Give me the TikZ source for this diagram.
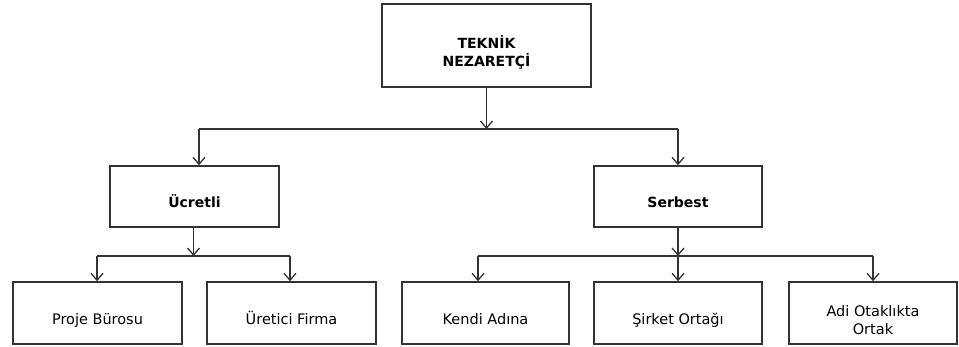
\documentclass[tikz,border=0pt]{standalone}
\usepackage{fontspec}
\setmainfont{DejaVu Sans}
\usetikzlibrary{arrows.meta}
\newcommand{\twoline}[2]{\begin{tabular}[b]{@{}c@{}}#1\\#2\end{tabular}}
\begin{document}
\begin{tikzpicture}[x=1pt,y=-1pt,
  box/.style={draw=black!80,line width=1.5pt,fill=white,minimum height=62pt,inner sep=0pt,text height=22pt,text depth=0pt,font=\fontsize{14.5}{18}\selectfont},
  bbox/.style={box,font=\fontsize{14}{18}\selectfont\bfseries},
  tall/.style={text height=42pt},
  arr/.style={draw=black!80,line width=1.5pt,-{Straight Barb[length=7pt,width=12pt,line width=1.3pt]}},
  ln/.style={draw=black!80,line width=1.5pt}]
\useasboundingbox (0,0) rectangle (959,346);
\node[bbox,tall,minimum width=209pt,minimum height=83pt] (top) at (486.5,45.5) {\twoline{TEKNİK}{NEZARETÇİ}};
\node[bbox,minimum width=169pt,minimum height=61pt] (ucr) at (194.5,196.5) {Ücretli};
\node[bbox,minimum width=168pt,minimum height=61pt] (ser) at (678,196.5) {Serbest};
\node[box,minimum width=169pt] (proje) at (97.5,313) {Proje Bürosu};
\node[box,minimum width=169pt] (uret) at (291.5,313) {Üretici Firma};
\node[box,minimum width=167pt] (kendi) at (485.5,313) {Kendi Adına};
\node[box,minimum width=168pt] (sirket) at (678,313) {Şirket Ortağı};
\node[box,tall,minimum width=168pt] (adi) at (873,313) {\twoline{Adi Otaklıkta}{Ortak}};
% level 1
\coordinate (h1) at (486.5,129);
\coordinate (h1L) at (199,129);
\coordinate (h1R) at (678,129);
\draw[arr] (top.south) -- (h1);
\draw[ln] (h1L) -- (h1R);
\draw[arr] (h1L) -- (h1L |- ucr.north);
\draw[arr] (h1R) -- (ser.north);
% level 2 left
\coordinate (h2a) at (193.5,256);
\coordinate (h2aL) at (97,256);
\coordinate (h2aR) at (290,256);
\draw[arr] (h2a |- ucr.south) -- (h2a);
\draw[ln] (h2aL) -- (h2aR);
\draw[arr] (h2aL) -- (h2aL |- proje.north);
\draw[arr] (h2aR) -- (h2aR |- uret.north);
% level 2 right
\coordinate (h2b) at (678,256);
\coordinate (h2bL) at (478,256);
\coordinate (h2bR) at (873,256);
\draw[arr] (ser.south) -- (h2b);
\draw[ln] (h2bL) -- (h2bR);
\draw[arr] (h2bL) -- (h2bL |- kendi.north);
\draw[arr] (h2b) -- (sirket.north);
\draw[arr] (h2bR) -- (adi.north);
\end{tikzpicture}
\end{document}
